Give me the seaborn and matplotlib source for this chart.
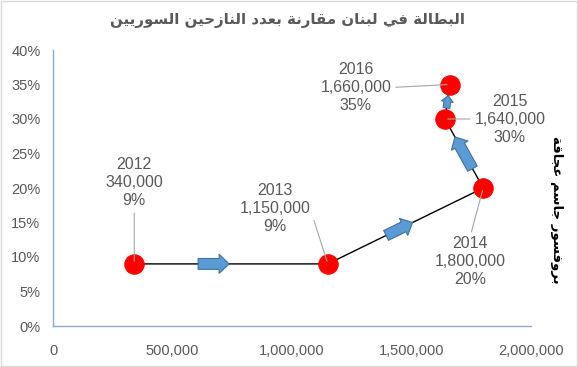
import matplotlib
matplotlib.use("Agg")
import matplotlib.pyplot as plt
import matplotlib.ticker as mticker
import seaborn as sns
import pandas as pd

# --- data ---
years = ['2012', '2013', '2014', '2015', '2016']
displaced = [340000, 1150000, 1800000, 1640000, 1660000]
unemployment = [0.09, 0.09, 0.20, 0.30, 0.35]

title_text = 'البطالة في لبنان مقارنة بعدد النازحين السوريين'
author_text = 'بروفسور جاسم عجاقة'

# matplotlib has no Arabic shaping, so map letters to their presentation forms
AR_FORMS = {
    'ا': (0xFE8D, 0xFE8E),
    'ب': (0xFE8F, 0xFE90, 0xFE91, 0xFE92),
    'ة': (0xFE93, 0xFE94),
    'ج': (0xFE9D, 0xFE9E, 0xFE9F, 0xFEA0),
    'ح': (0xFEA1, 0xFEA2, 0xFEA3, 0xFEA4),
    'د': (0xFEA9, 0xFEAA),
    'ر': (0xFEAD, 0xFEAE),
    'ز': (0xFEAF, 0xFEB0),
    'س': (0xFEB1, 0xFEB2, 0xFEB3, 0xFEB4),
    'ط': (0xFEC1, 0xFEC2, 0xFEC3, 0xFEC4),
    'ع': (0xFEC9, 0xFECA, 0xFECB, 0xFECC),
    'ف': (0xFED1, 0xFED2, 0xFED3, 0xFED4),
    'ق': (0xFED5, 0xFED6, 0xFED7, 0xFED8),
    'ل': (0xFEDD, 0xFEDE, 0xFEDF, 0xFEE0),
    'م': (0xFEE1, 0xFEE2, 0xFEE3, 0xFEE4),
    'ن': (0xFEE5, 0xFEE6, 0xFEE7, 0xFEE8),
    'و': (0xFEED, 0xFEEE),
    'ي': (0xFEF1, 0xFEF2, 0xFEF3, 0xFEF4),
}


def shape_ar(text):
    out = []
    for i, ch in enumerate(text):
        forms = AR_FORMS.get(ch)
        if forms is None:
            out.append(ch)
            continue
        prev = text[i - 1] if i > 0 else ''
        nxt = text[i + 1] if i + 1 < len(text) else ''
        join_prev = prev in AR_FORMS and len(AR_FORMS[prev]) == 4
        join_next = len(forms) == 4 and nxt in AR_FORMS
        if join_prev and join_next:
            idx = 3
        elif join_next:
            idx = 2
        elif join_prev:
            idx = 1
        else:
            idx = 0
        out.append(chr(forms[idx]))
    return ''.join(reversed(out))


df = pd.DataFrame({'displaced': displaced, 'rate': unemployment, 'year': years})

sns.set_theme(style="white")
plt.rcParams['font.family'] = ['Liberation Sans', 'DejaVu Sans']

grey = '#595959'
fig = plt.figure(figsize=(5.78, 3.67), dpi=100)
ax = fig.add_axes([53 / 578, 1 - 326 / 367, 478 / 578, 276 / 367])

sns.lineplot(data=df, x='displaced', y='rate', sort=False, ax=ax,
             color='black', linewidth=1, marker='o', markersize=14,
             markerfacecolor='#FF0000', markeredgecolor='#FF0000', zorder=3)

# blue block arrows along each segment
arrow_mid = [0.41, 0.46, 0.51, 0.50]
arrow_len = [0.16, 0.17, 0.46, 0.36]
arrow_scale = [13, 13, 13, 8]
for i in range(len(displaced) - 1):
    x0, y0 = displaced[i], unemployment[i]
    x1, y1 = displaced[i + 1], unemployment[i + 1]
    a = arrow_mid[i] - arrow_len[i] / 2
    b = arrow_mid[i] + arrow_len[i] / 2
    ax.annotate('', xy=(x0 + b * (x1 - x0), y0 + b * (y1 - y0)),
                xytext=(x0 + a * (x1 - x0), y0 + a * (y1 - y0)),
                arrowprops=dict(arrowstyle='simple,head_length=0.55,head_width=1.05,tail_width=0.6',
                                mutation_scale=arrow_scale[i], fc='#5B9BD5', ec='#41719C',
                                lw=0.8, shrinkA=0, shrinkB=0), zorder=4)

# data labels with leader lines (offsets in pixels)
label_offsets = [(0, 81), (-53, 55), (-13, -74), (65, 0), (-94, -3)]
leader_from = [(0.5, 0.0), (1.0, 0.5), (0.5, 1.0), (0.0, 0.5), (1.0, 0.5)]
for x, y, yr, (dx, dy), rel in zip(displaced, unemployment, years, label_offsets, leader_from):
    ax.annotate(f'{yr}\n{x:,}\n{y:.0%}', xy=(x, y), xytext=(dx, dy),
                textcoords='offset pixels', ha='center', va='center',
                fontsize=11.5, color=grey, linespacing=1.25,
                arrowprops=dict(arrowstyle='-', color='#A6A6A6', lw=0.8, relpos=rel,
                                shrinkA=1, shrinkB=2), zorder=5)

ax.set_xlim(0, 2000000)
ax.set_ylim(0, 0.40)
ax.xaxis.set_major_locator(mticker.MultipleLocator(500000))
ax.yaxis.set_major_locator(mticker.MultipleLocator(0.05))
ax.xaxis.set_major_formatter(mticker.FuncFormatter(lambda v, p: f'{v:,.0f}'))
ax.yaxis.set_major_formatter(mticker.PercentFormatter(1.0, decimals=0))
ax.tick_params(axis='x', length=0, pad=13, labelsize=10.5, labelcolor=grey)
ax.tick_params(axis='y', length=0, pad=9, labelsize=10.5, labelcolor=grey)
ax.set_xlabel('')
ax.set_ylabel('')
for side in ['top', 'right']:
    ax.spines[side].set_visible(False)
for side in ['left', 'bottom']:
    ax.spines[side].set_color('#8EA9C8')
    ax.spines[side].set_linewidth(1)

fig.text(288 / 578, 1 - 20 / 367, shape_ar(title_text), ha='center', va='center',
         fontsize=10.8, fontweight='bold', color=grey, family=['DejaVu Sans'])
fig.text(557 / 578, 1 - 210 / 367, shape_ar(author_text), ha='center', va='center',
         rotation=-90, fontsize=9.5, fontweight='bold', color='black', family=['DejaVu Sans'])

fig.patches.append(plt.Rectangle((0.002, 0.003), 0.996, 0.994, transform=fig.transFigure,
                                 fill=False, ec='#D9D9D9', lw=1))

fig.savefig('out.png', dpi=100)
